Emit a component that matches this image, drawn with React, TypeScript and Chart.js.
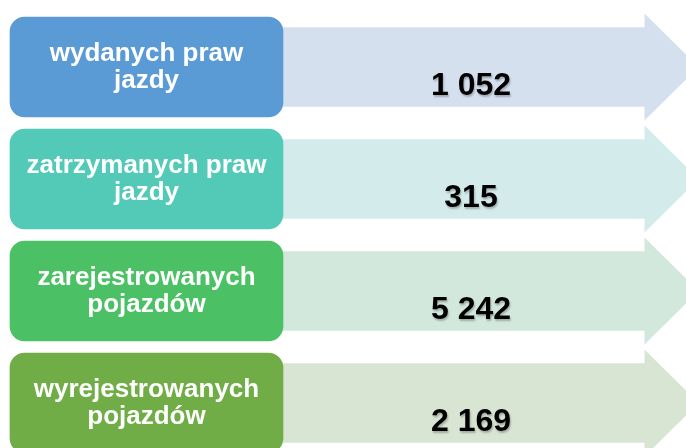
import React, { useEffect, useRef } from "react";
import { Chart, registerables } from "chart.js";

Chart.register(...registerables);

// ---- data ----
const CATEGORIES: string[][] = [
  ["wydanych praw", "jazdy"],
  ["zatrzymanych praw", "jazdy"],
  ["zarejestrowanych", "pojazdów"],
  ["wyrejestrowanych", "pojazdów"],
];
const VALUES: number[] = [1052, 315, 5242, 2169];
const BOX_COLORS: string[] = ["#5B9BD5", "#53CAB8", "#4BC065", "#70AD47"];
const ARROW_COLORS: string[] = ["#D5E0EF", "#D3ECEB", "#D3E8DC", "#D8E5D3"];

// ---- layout (not data) ----
const W = 686;
const H = 459;
const TOP_PAD = 11;
const BOX_START = 10;
const BOX_END = 283;
const ARROW_BODY_END = 645;
const HEAD_HALF = 53.5;
const FONT = "'Liberation Sans', Arial, sans-serif";

const fmt = (v: number) => String(v).replace(/\B(?=(\d{3})+(?!\d))/g, " ");

const decorPlugin = {
  id: "decor",
  afterDatasetsDraw(chart: any) {
    const ctx = chart.ctx as CanvasRenderingContext2D;
    const boxMeta = chart.getDatasetMeta(0);
    const arrowMeta = chart.getDatasetMeta(1);

    // arrow heads + values
    arrowMeta.data.forEach((el: any, i: number) => {
      const { x, y } = el.getProps(["x", "y"], true);
      ctx.save();
      ctx.fillStyle = ARROW_COLORS[i];
      ctx.beginPath();
      ctx.moveTo(x - 0.5, y - HEAD_HALF);
      ctx.lineTo(x + HEAD_HALF, y);
      ctx.lineTo(x - 0.5, y + HEAD_HALF);
      ctx.closePath();
      ctx.fill();
      ctx.restore();

      const base = el.base;
      ctx.save();
      ctx.font = `bold 32px ${FONT}`;
      ctx.fillStyle = "#000000";
      ctx.textAlign = "center";
      ctx.textBaseline = "alphabetic";
      ctx.shadowColor = "rgba(0,0,0,0.25)";
      ctx.shadowBlur = 2;
      ctx.shadowOffsetX = 1;
      ctx.shadowOffsetY = 1.5;
      ctx.fillText(fmt(VALUES[i]), (base + x) / 2 + 7, y + 28);
      ctx.restore();
    });

    // box labels
    boxMeta.data.forEach((el: any, i: number) => {
      const { x, y, base } = el.getProps(["x", "y", "base"], true);
      const cx = (x + base) / 2;
      ctx.save();
      ctx.font = `bold 26px ${FONT}`;
      ctx.fillStyle = "#FFFFFF";
      ctx.textAlign = "center";
      ctx.textBaseline = "alphabetic";
      const lines = CATEGORIES[i];
      lines.forEach((ln, k) => {
        ctx.fillText(ln, cx, y - 6 + k * 27);
      });
      ctx.restore();
    });
  },
};

export default function App() {
  const ref = useRef<HTMLCanvasElement | null>(null);

  useEffect(() => {
    document.body.style.margin = "0";
    document.body.style.overflow = "hidden";
    document.documentElement.style.overflow = "hidden";
    if (!ref.current) return;
    const labels = CATEGORIES.map((c) => c.join(" "));
    const chart = new Chart(ref.current, {
      type: "bar",
      data: {
        labels,
        datasets: [
          {
            label: "box",
            data: CATEGORIES.map(() => [BOX_START, BOX_END]) as any,
            backgroundColor: BOX_COLORS,
            borderRadius: 15,
            borderSkipped: false,
            barThickness: 100,
            grouped: false,
            order: 0,
          } as any,
          {
            label: "arrow",
            data: CATEGORIES.map(() => [BOX_END, ARROW_BODY_END]) as any,
            backgroundColor: ARROW_COLORS,
            borderRadius: 0,
            barThickness: 79,
            grouped: false,
            order: 1,
          } as any,
        ],
      },
      options: {
        indexAxis: "y",
        responsive: false,
        animation: false,
        layout: { padding: { top: TOP_PAD, bottom: 0, left: 0, right: 0 } },
        plugins: {
          legend: { display: false },
          tooltip: { enabled: false },
        },
        scales: {
          x: { type: "linear", min: 0, max: W, display: false },
          y: { type: "category", offset: true, display: false },
        },
      },
      plugins: [decorPlugin],
    });
    return () => chart.destroy();
  }, []);

  return (
    <div style={{ width: W, height: H, position: "relative" }}>
      <canvas ref={ref} width={W} height={H} style={{ display: "block" }} />
    </div>
  );
}
